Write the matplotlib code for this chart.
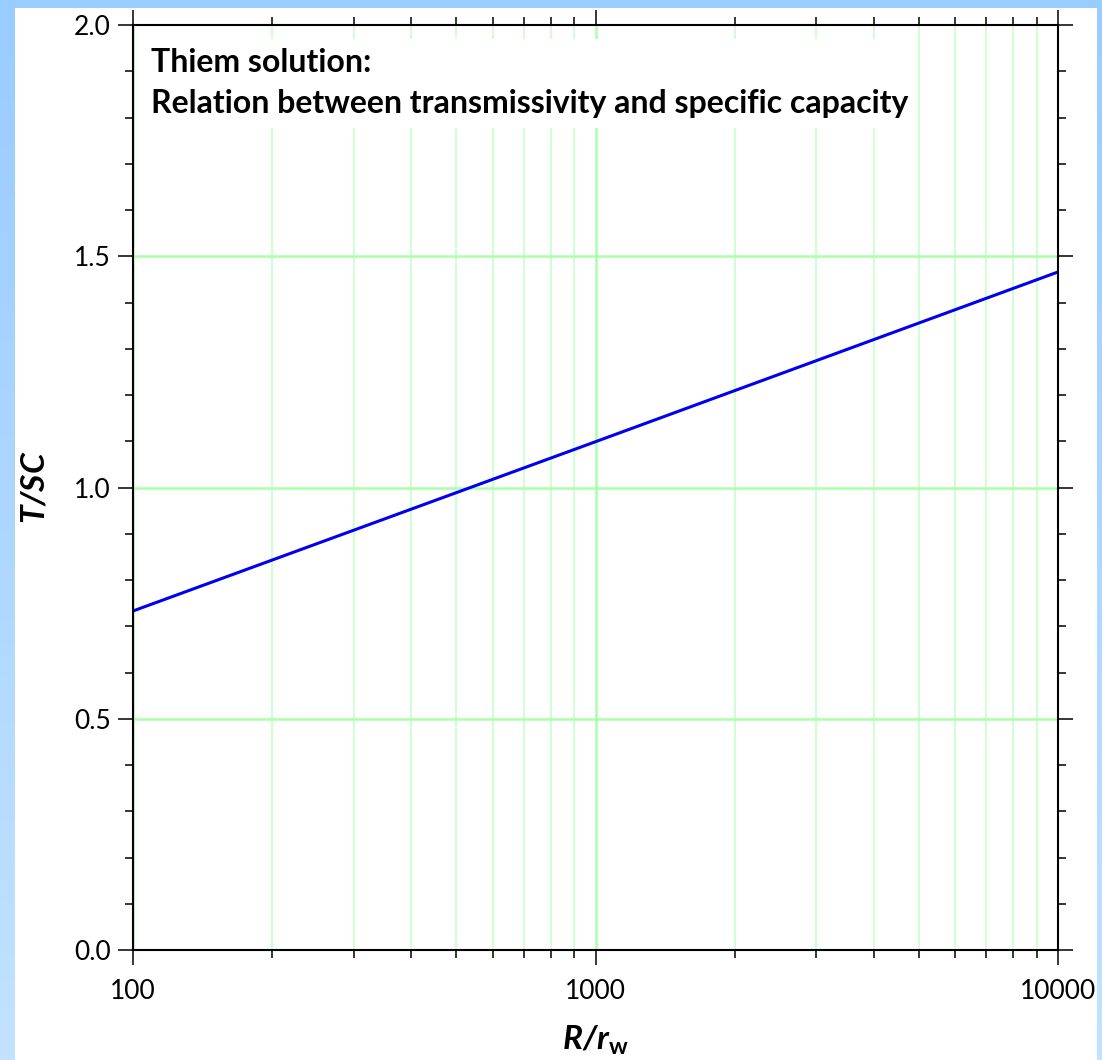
import numpy as np
import matplotlib as mpl
import matplotlib.pyplot as plt
from matplotlib.ticker import FixedLocator, MultipleLocator, NullFormatter, FixedFormatter

# data (T/SC versus R/rw, straight on log x)
ratio_r = [100, 1000, 10000]
t_over_sc = [0.733, 1.099, 1.466]
x_tick_vals = [100, 1000, 10000]
x_tick_text = ["100", "1000", "10000"]
y_tick_vals = [0.0, 0.5, 1.0, 1.5, 2.0]
y_tick_text = ["0.0", "0.5", "1.0", "1.5", "2.0"]
title_lines = ["Thiem solution:", "Relation between transmissivity and specific capacity"]

mpl.rcParams['font.family'] = ['Lato', 'DejaVu Sans']
mpl.rcParams['mathtext.fontset'] = 'custom'
mpl.rcParams['mathtext.rm'] = 'Lato'
mpl.rcParams['mathtext.bf'] = 'Lato:bold'
mpl.rcParams['mathtext.it'] = 'Lato:italic'
mpl.rcParams['mathtext.bfit'] = 'Lato:italic:bold'

W, H = 1102, 1060
fig = plt.figure(figsize=(W / 100, H / 100), dpi=100, facecolor="white")

ax = fig.add_axes([133 / W, 1 - 950 / H, 925 / W, 925 / H])
ax.set_xscale("log")
ax.set_xlim(100, 10000)
ax.set_ylim(0, 2.0)

# grid
minor_x = [m * d for d in (100, 1000) for m in range(2, 10)]
for xv in minor_x:
    ax.axvline(xv, color="#ccffcc", lw=1.3, zorder=0)
for xv in x_tick_vals:
    ax.axvline(xv, color="#aaffaa", lw=1.8, zorder=0)
for yv in y_tick_vals[1:-1]:
    ax.axhline(yv, color="#aaffaa", lw=1.8, zorder=0)

ax.plot(ratio_r, t_over_sc, color="#0000ee", lw=2.2, zorder=3)

ax.xaxis.set_major_locator(FixedLocator(x_tick_vals))
ax.xaxis.set_major_formatter(FixedFormatter(x_tick_text))
ax.xaxis.set_minor_locator(FixedLocator(minor_x))
ax.xaxis.set_minor_formatter(NullFormatter())
ax.yaxis.set_major_locator(FixedLocator(y_tick_vals))
ax.yaxis.set_major_formatter(FixedFormatter(y_tick_text))
ax.yaxis.set_minor_locator(MultipleLocator(0.1))

ax.tick_params(which="both", direction="out", top=True, right=True, colors="black",
               width=1.1, labelsize=19)
ax.tick_params(axis="x", which="major", length=11, pad=10)
ax.tick_params(axis="y", which="major", length=11, pad=5)
ax.tick_params(which="minor", length=6)
for s in ax.spines.values():
    s.set_linewidth(1.5)
    s.set_zorder(4)

ax.set_xlabel(r"$\mathbfit{R/r}_{\mathbf{w}}$", fontsize=24, labelpad=14)
ax.set_ylabel(r"$\mathbfit{T/SC}$", fontsize=24, labelpad=17)

ax.text(0.019, 0.975, "\n".join(title_lines), transform=ax.transAxes, ha="left", va="top",
        fontsize=23, fontweight="bold", linespacing=1.5, zorder=2,
        bbox=dict(facecolor="white", edgecolor="none", pad=7))

# light blue frame strips on top of everything
ov = fig.add_axes([0, 0, 1, 1], zorder=20)
ov.axis("off")
ov.patch.set_alpha(0)
grad = np.linspace(0, 1, 256).reshape(-1, 1)
cmap = mpl.colors.LinearSegmentedColormap.from_list("bg", ["#99ccff", "#c2e2ff"])
ov.imshow(grad, cmap=cmap, extent=(0, 15, H, 0), aspect="auto", interpolation="bilinear")
ov.imshow(grad, cmap=cmap, extent=(1097, W, H, 0), aspect="auto", interpolation="bilinear")
ov.imshow(grad[:8], cmap=cmap, extent=(0, W, 8, 0), aspect="auto", vmin=0, vmax=1)
ov.set_xlim(0, W)
ov.set_ylim(H, 0)

fig.savefig("out.png", dpi=100, facecolor="white")
